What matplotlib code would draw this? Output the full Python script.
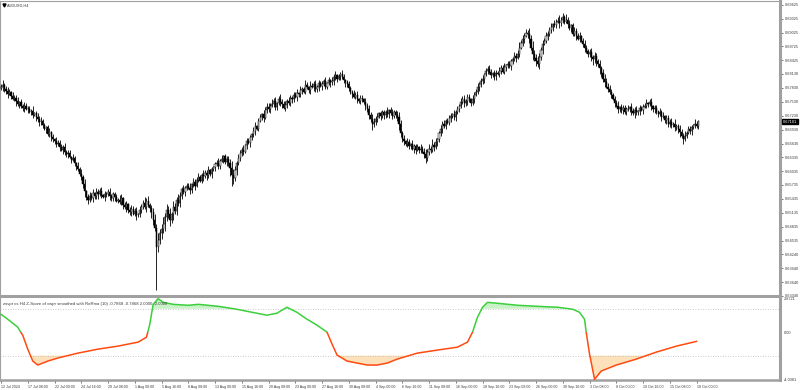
import matplotlib
matplotlib.use("Agg")
import matplotlib.pyplot as plt
import matplotlib.transforms as mtransforms
from matplotlib.patches import Rectangle
import numpy as np

# ---------------- data ----------------
SYMBOL = "AUDUSD,H4"
IND_TITLE = "zsvpr cs H4 Z-Score of vwpr smoothed with RaRma (10) -0.7868 -0.7868 2.0000 -2.0000"
LAST_PRICE = 0.67101
PIP = 0.0001

FIRST_OPEN = 6782  # in pips (x 0.0001)
CLOSES = [
    6785, 6790, 6781, 6776, 6770, 6774, 6765, 6760, 6762, 6754, 6748, 6752, 6745, 6740, 6744, 6738,
    6737, 6731, 6734, 6725, 6728, 6720, 6716, 6710, 6712, 6702, 6695, 6698, 6683, 6688, 6678, 6672,
    6668, 6661, 6664, 6655, 6650, 6656, 6645, 6640, 6643, 6634, 6628, 6631, 6620, 6615, 6607, 6598,
    6590, 6575, 6560, 6548, 6542, 6550, 6545, 6556, 6550, 6558, 6553, 6560, 6552, 6548, 6555, 6553,
    6558, 6550, 6546, 6553, 6548, 6540, 6542, 6536, 6545, 6530, 6525, 6532, 6520, 6515, 6522, 6512,
    6518, 6508, 6510, 6520, 6527, 6535, 6525, 6540, 6531, 6524, 6515, 6499, 6480, 6440, 6455, 6470,
    6478, 6490, 6505, 6520, 6512, 6498, 6510, 6525, 6518, 6542, 6535, 6550, 6564, 6558, 6566, 6572,
    6568, 6562, 6575, 6580, 6572, 6585, 6590, 6583, 6596, 6592, 6600, 6594, 6605, 6598, 6607, 6612,
    6618, 6622, 6615, 6626, 6629, 6635, 6624, 6630, 6620, 6610, 6595, 6588, 6605, 6620, 6632, 6642,
    6650, 6645, 6660, 6668, 6664, 6676, 6683, 6690, 6700, 6695, 6712, 6720, 6726, 6718, 6735, 6742,
    6738, 6745, 6748, 6755, 6742, 6750, 6760, 6752, 6748, 6740, 6746, 6755, 6750, 6762, 6759, 6768,
    6764, 6772, 6770, 6778, 6780, 6775, 6790, 6784, 6778, 6788, 6785, 6792, 6780, 6786, 6794, 6788,
    6791, 6797, 6786, 6793, 6800, 6795, 6798, 6806, 6810, 6802, 6808, 6812, 6806, 6800, 6795, 6791,
    6782, 6775, 6770, 6764, 6768, 6759, 6754, 6762, 6759, 6752, 6745, 6737, 6725, 6715, 6705, 6710,
    6716, 6720, 6728, 6722, 6730, 6725, 6732, 6726, 6735, 6728, 6722, 6730, 6724, 6720, 6705, 6685,
    6672, 6668, 6661, 6666, 6658, 6662, 6652, 6657, 6650, 6655, 6648, 6652, 6645, 6640, 6632, 6645,
    6652, 6648, 6660, 6655, 6666, 6672, 6685, 6695, 6705, 6700, 6712, 6708, 6718, 6722, 6726, 6720,
    6730, 6738, 6745, 6752, 6759, 6750, 6755, 6764, 6758, 6750, 6759, 6768, 6775, 6785, 6792, 6798,
    6802, 6812, 6820, 6824, 6818, 6810, 6815, 6808, 6816, 6813, 6820, 6826, 6818, 6828, 6832, 6835,
    6830, 6840, 6846, 6852, 6848, 6856, 6870, 6880, 6889, 6895, 6902, 6900, 6888, 6870, 6856, 6848,
    6840, 6835, 6850, 6865, 6878, 6885, 6895, 6900, 6908, 6915, 6921, 6918, 6925, 6928, 6922, 6930,
    6935, 6926, 6930, 6921, 6912, 6918, 6900, 6906, 6895, 6889, 6895, 6884, 6878, 6870, 6862, 6856,
    6860, 6850, 6845, 6852, 6840, 6835, 6825, 6815, 6802, 6795, 6785, 6780, 6775, 6768, 6759, 6750,
    6745, 6737, 6742, 6735, 6740, 6730, 6738, 6737, 6742, 6734, 6728, 6735, 6730, 6733, 6740, 6736,
    6742, 6745, 6750, 6748, 6752, 6744, 6737, 6740, 6732, 6726, 6730, 6720, 6722, 6714, 6718, 6705,
    6710, 6702, 6706, 6698, 6700, 6694, 6688, 6680, 6672, 6680, 6686, 6694, 6690, 6698, 6702, 6706,
    6700, 6711,
]

# wick lengths per bar, one digit per bar, in units of 3 pips
UP_WICK = (
    "2312 3213 2231 2132 2213 1232 3121 2312 1322 2131 2213 2132 3241 2323 1322 3121 "
    "2312 2213 3122 1232 2313 2242 3123 4353 4534 3425 3243 2322 2313 2232 1322 3121 "
    "2231 3122 2354 3232 2312 2213 3122 1323 3242 3123 2231 3212 2313 2232 1322 3121 "
    "2231 2132 3122 3212 2213 2312 2132 3243 2312 2213 1232 2343 2313 2132 2213 2342 "
    "3242 3123 2312 2213 2213 2312 2132 2312 3122 3212 2132 2312 2213 2342 3232 4353 "
    "3432 3232 2313 2342 3242 3123 2231 2322 2313 2232 3433 3212 2312 2213 1322 3121 "
    "2231 2312 2132 3122 2313 2232 2312 2213 21"
).replace(" ", "")
LO_WICK = (
    "1322 3121 2313 2231 3122 1323 2213 1232 2213 1322 3121 2312 2342 3213 2231 2132 "
    "1322 3121 2313 2231 2312 2213 2344 2343 4353 3424 2323 2131 1322 3121 2313 2231 "
    "3122 1323 2684 2312 2213 1322 3121 2312 2312 2213 3122 1232 1322 3121 2313 2231 "
    "3122 1323 2213 1232 2231 2312 2132 3242 2213 1322 3121 2343 2312 2213 3122 1342 "
    "2213 1322 3121 2312 3122 1323 2213 1232 2312 2213 3122 1232 1322 3121 2313 3242 "
    "3242 3123 2231 2132 2213 1322 3121 2312 2343 3243 2312 2213 1322 3121 2313 2231 "
    "3122 1323 2213 1232 2213 2342 3121 2312 12"
).replace(" ", "")
WICK_UNIT = 3  # pips per digit
SPIKE_BARS = [93]
SPIKE_LOWS = [6347]

Y_TICKS = [0.69625, 0.69325, 0.69025, 0.68725, 0.68425, 0.68130, 0.67830, 0.67530,
           0.67230, 0.66930, 0.66630, 0.66335, 0.66035, 0.65735, 0.65435, 0.65135,
           0.64835, 0.64535, 0.64240, 0.63940, 0.63640, 0.63340]

X_LABELS = ["12 Jul 2024", "17 Jul 08:00", "22 Jul 00:00", "24 Jul 16:00", "29 Jul 08:00",
            "1 Aug 00:00", "5 Aug 16:00", "8 Aug 08:00", "13 Aug 00:00", "15 Aug 16:00",
            "20 Aug 08:00", "23 Aug 00:00", "27 Aug 16:00", "30 Aug 08:00", "4 Sep 00:00",
            "6 Sep 16:00", "11 Sep 08:00", "16 Sep 00:00", "18 Sep 16:00", "23 Sep 08:00",
            "26 Sep 00:00", "30 Sep 16:00", "3 Oct 08:00", "8 Oct 00:00", "10 Oct 16:00",
            "15 Oct 08:00", "18 Oct 00:00"]
X_LABEL_STEP = 16  # bars between time labels

IND_BARS = [0, 4, 10, 13, 16, 19, 22, 25, 28, 34, 46, 58, 70, 82, 87, 89, 91, 94, 97, 103,
            112, 118, 130, 141, 153, 159, 165, 171, 177, 183, 189, 195, 198, 201, 207, 213,
            219, 225, 231, 237, 249, 261, 273, 279, 282, 285, 288, 291, 297, 309, 321, 333,
            342, 346, 349, 350, 352, 355, 359, 368, 380, 392, 404, 416]
IND_VALS = [1.53, 1.11, 0.43, -0.26, -1.45, -2.47, -2.81, -2.64, -2.47, -2.21, -1.79, -1.45,
            -1.19, -0.85, -0.43, 0.68, 2.38, 2.87, 2.55, 2.38, 2.30, 2.38, 2.21, 1.96, 1.62,
            1.45, 1.62, 2.13, 1.70, 1.11, 0.60, 0.0, -1.02, -1.96, -2.47, -2.64, -2.81, -2.81,
            -2.64, -2.30, -1.79, -1.53, -1.28, -0.85, 0.0, 1.28, 2.13, 2.55, 2.47, 2.30, 2.21,
            2.13, 1.96, 1.70, 1.11, 0.0, -1.87, -4.03, -3.32, -2.81, -2.30, -1.70, -1.19, -0.7868]
IND_LEVELS = [2.0, -2.0]
IND_MAX, IND_MIN = 2.8721, -4.0381

# ---------------- figure ----------------
W, H = 800, 390
fig = plt.figure(figsize=(W / 100, H / 100), dpi=100)
plt.rcParams['font.family'] = ['Liberation Sans', 'DejaVu Sans']


def rect(x0, y0, x1, y1):
    return [x0 / W, 1 - y1 / H, (x1 - x0) / W, (y1 - y0) / H]


BAR_PX = 1.672
ax = fig.add_axes(rect(0, 1, 780, 296))
ax2 = fig.add_axes(rect(0, 298, 780, 380))
xl = (-1 / BAR_PX, 779 / BAR_PX)

frame = '#a0a0a0'
txt = '#3a3a3a'

# candles
closes = np.array(CLOSES, dtype=float)
opens = np.concatenate([[FIRST_OPEN], closes[:-1]])
n = len(closes)
up = np.array([int(c) for c in UP_WICK[:n]], dtype=float) * WICK_UNIT
lo = np.array([int(c) for c in LO_WICK[:n]], dtype=float) * WICK_UNIT
highs = np.maximum(opens, closes) + up
lows = np.minimum(opens, closes) - lo
for b, v in zip(SPIKE_BARS, SPIKE_LOWS):
    lows[b] = v
opens, closes, highs, lows = opens * PIP, closes * PIP, highs * PIP, lows * PIP
idx = np.arange(n)
ax.vlines(idx, lows, highs, colors='black', linewidth=0.6, zorder=2)
bull = closes >= opens
bot = np.minimum(opens, closes)
hgt = np.maximum(np.abs(closes - opens), 0.00003)
ax.bar(idx[bull], hgt[bull], bottom=bot[bull], width=0.7, facecolor='#e8e8e8',
       edgecolor='black', linewidth=0.35, zorder=3)
ax.bar(idx[~bull], hgt[~bull], bottom=bot[~bull], width=0.7, facecolor='black',
       edgecolor='black', linewidth=0.35, zorder=3)

ax.set_xlim(*xl)
ax.set_ylim(0.63345, 0.69705)
ax.set_xticks([])
ax.yaxis.tick_right()
ax.set_yticks(Y_TICKS)
ax.set_yticklabels([f"{t:.5f}" for t in Y_TICKS])
ax.tick_params(axis='y', direction='out', length=2, width=0.6, color='#606060',
               labelsize=2.8, labelcolor=txt, pad=1.2)
for s in ['left', 'top']:
    ax.spines[s].set_color(frame)
    ax.spines[s].set_linewidth(0.8)
ax.spines['right'].set_color(frame)
ax.spines['right'].set_linewidth(2.2)
ax.spines['bottom'].set_color(frame)
ax.spines['bottom'].set_linewidth(2.2)

# price tag
blend = mtransforms.blended_transform_factory(ax.transAxes, ax.transData)
ax.text(1.004, LAST_PRICE, f"{LAST_PRICE:.5f}", transform=blend, ha='left', va='center',
        fontsize=2.8, color='white',
        bbox=dict(boxstyle='square,pad=0.2', fc='black', ec='black'), clip_on=False)

# symbol label
ax.plot([0.0045], [0.986], marker='v', ms=2.2, color='black', transform=ax.transAxes,
        clip_on=False)
ax.text(7 / 779, 0.986, SYMBOL, transform=ax.transAxes, ha='left', va='center',
        fontsize=2.8, color=txt)

# indicator
bars = np.array(IND_BARS, dtype=float)
vals = np.array(IND_VALS, dtype=float)
ax2.fill_between(bars, vals, IND_LEVELS[0], where=vals > IND_LEVELS[0], interpolate=True,
                 color='#c9f2c9', lw=0, zorder=1)
ax2.fill_between(bars, vals, IND_LEVELS[1], where=vals < IND_LEVELS[1], interpolate=True,
                 color='#fde1bb', lw=0, zorder=1)
for lv in IND_LEVELS:
    ax2.axhline(lv, color='#b8b8b8', ls=(0, (1, 2)), lw=0.6, zorder=1)
lg, = ax2.plot(bars, vals, color='#3ccf3c', lw=1.1, zorder=3, solid_joinstyle='round')
lg.set_clip_path(Rectangle((-100, 0), 1000, 100, transform=ax2.transData))
lr, = ax2.plot(bars, vals, color='#ff4a10', lw=1.1, zorder=3, solid_joinstyle='round')
lr.set_clip_path(Rectangle((-100, -100), 1000, 100, transform=ax2.transData))

ax2.set_xlim(*xl)
ax2.set_ylim(IND_MIN - 0.05, IND_MAX + 0.05)
ax2.yaxis.tick_right()
ax2.set_yticks([IND_MAX, 0.0, IND_MIN])
ax2.set_yticklabels([f"{IND_MAX:.4f}", "0.00", f"{IND_MIN:.4f}"])
ax2.tick_params(axis='y', length=0, labelsize=2.8, labelcolor=txt, pad=2.5)
ax2.text(3 / 779, 0.93, IND_TITLE, transform=ax2.transAxes, ha='left', va='center',
         fontsize=3.1, color=txt)

xt = list(range(0, X_LABEL_STEP * len(X_LABELS), X_LABEL_STEP))
ax2.set_xticks(xt)
ax2.set_xticklabels(X_LABELS)
plt.setp(ax2.get_xticklabels(), ha='left')
ax2.tick_params(axis='x', direction='out', length=2.5, width=0.6, color='#606060',
                labelsize=2.6, labelcolor=txt, pad=1)
ax2.spines['top'].set_visible(False)
ax2.spines['left'].set_color(frame)
ax2.spines['left'].set_linewidth(0.8)
ax2.spines['right'].set_color(frame)
ax2.spines['right'].set_linewidth(2.2)
ax2.spines['bottom'].set_color(frame)
ax2.spines['bottom'].set_linewidth(1.8)

fig.savefig("out.png", dpi=100, facecolor='white')
